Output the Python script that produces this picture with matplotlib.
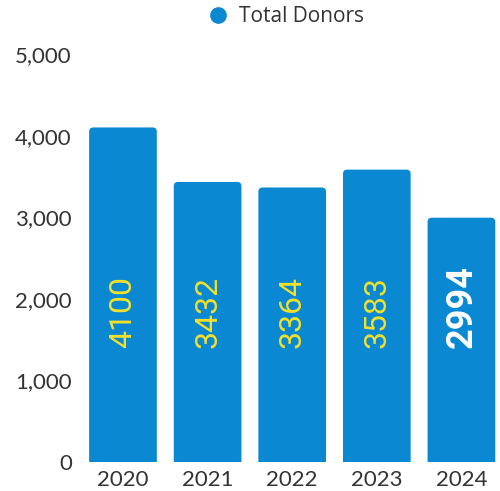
import matplotlib
matplotlib.use("Agg")
import matplotlib.pyplot as plt
from matplotlib.ticker import FuncFormatter
from matplotlib.lines import Line2D
from matplotlib.patches import FancyBboxPatch

years = ["2020", "2021", "2022", "2023", "2024"]
donors = [4100, 3432, 3364, 3583, 2994]
yticks = [0, 1000, 2000, 3000, 4000, 5000]
series_name = "Total Donors"

bar_color = "#0a88d1"
text_color = "#333333"

W, H = 500, 491
fig = plt.figure(figsize=(W / 100, H / 100), dpi=100)
ax_left, ax_right, ax_bottom, ax_top = 85, 500, 462, 54
ax = fig.add_axes([ax_left / W, (H - ax_bottom) / H,
                   (ax_right - ax_left) / W, (ax_bottom - ax_top) / H])

xlim = (-0.449, 4.456)
ylim = (0, 5000)
ax.set_xlim(*xlim)
ax.set_ylim(*ylim)

x = list(range(len(years)))
bw = 0.8
# aspect: data-y per pixel / data-x per pixel
aspect = ((ylim[1] - ylim[0]) / (ax_bottom - ax_top)) / ((xlim[1] - xlim[0]) / (ax_right - ax_left))
for i, v in zip(x, donors):
    p = FancyBboxPatch((i - bw / 2, -300), bw, v + 300,
                       boxstyle="round,pad=0,rounding_size=0.05",
                       mutation_aspect=aspect, facecolor=bar_color,
                       edgecolor="none", zorder=2)
    ax.add_patch(p)

for i, v in enumerate(donors):
    last = (i == len(donors) - 1)
    ax.text(i, 1400, str(v), rotation=90, rotation_mode="anchor",
            ha="left", va="center",
            color="white" if last else "#f2e12c",
            fontsize=26 if last else 23,
            fontweight="bold" if last else "normal",
            family="Roboto", zorder=3)

ax.set_xticks(x)
ax.set_xticklabels(years)
ax.set_yticks(yticks)
ax.yaxis.set_major_formatter(FuncFormatter(lambda v, p: f"{int(v):,}"))
for lab in ax.get_xticklabels() + ax.get_yticklabels():
    lab.set_family("Lato")
    lab.set_fontsize(16)
    lab.set_color(text_color)
ax.tick_params(axis="both", length=0)
ax.tick_params(axis="y", pad=9.5)
ax.tick_params(axis="x", pad=6)
for s in ax.spines.values():
    s.set_visible(False)

handle = Line2D([0], [0], marker="o", color="none", markerfacecolor=bar_color,
                markeredgecolor=bar_color, markersize=11)
fig.legend([handle], [series_name], loc="center left",
           bbox_to_anchor=(0.415, 1 - 17 / H), borderaxespad=0, borderpad=0,
           frameon=False, prop={"family": "Open Sans", "size": 15},
           labelcolor=text_color, handletextpad=0.5, handlelength=1.0)

fig.savefig("out.png", dpi=100)
